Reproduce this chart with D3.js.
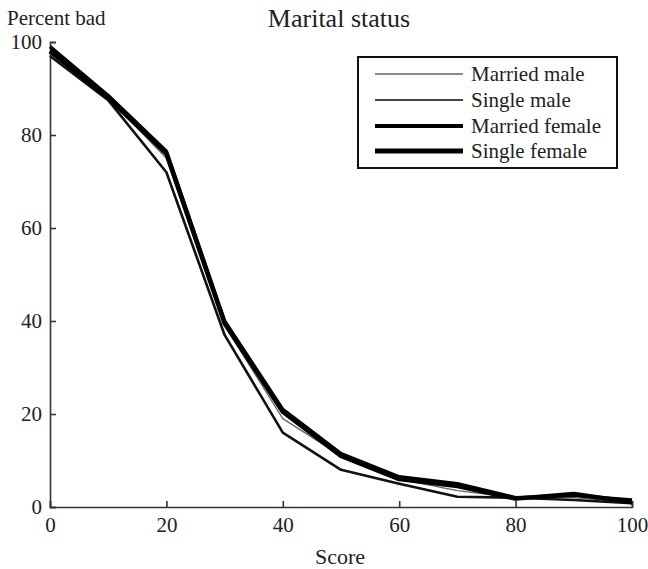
<!DOCTYPE html>
<html><head><meta charset="utf-8">
<script src="https://cdn.jsdelivr.net/npm/d3@7/dist/d3.min.js"></script>
<style>body{margin:0;background:#fff;} svg{display:block;}</style>
</head><body>
<script>
const scores = [0,10,20,30,40,50,60,70,80,90,100];
const marriedMale   = [98, 88, 75, 39, 19, 11, 6, 3.5, 2, 2, 1];
const singleMale    = [97, 87.5, 72, 37, 16, 8, 5, 2.2, 2, 1.5, 0.8];
const marriedFemale = [99, 88.5, 76.5, 40, 21, 11.5, 6.5, 5, 2, 2.5, 1.5];
const singleFemale  = [98, 88, 76, 39.5, 20.5, 11, 6, 4.5, 1.8, 2.8, 1];
const seriesNames = ["Married male","Single male","Married female","Single female"];
const xTicks = [0,20,40,60,80,100];
const yTicks = [0,20,40,60,80,100];

const W=648,H=569;
const svg=d3.select("body").append("svg").attr("width",W).attr("height",H);
const x=d3.scaleLinear().domain([0,100]).range([50,632]);
const y=d3.scaleLinear().domain([0,100]).range([507,42]);
const font="'Liberation Serif','Times New Roman',serif";

const styles=[
 {c:"#666",w:1.3},
 {c:"#111",w:2.6},
 {c:"#000",w:3.5},
 {c:"#000",w:4.5}
];
const legendStyles=[
 {c:"#666",w:1.3},
 {c:"#444",w:2},
 {c:"#000",w:4},
 {c:"#000",w:5}
];
const data=[marriedMale,singleMale,marriedFemale,singleFemale];

// axes
const xa=svg.append("g").attr("transform","translate(0,507)")
 .call(d3.axisBottom(x).tickValues(xTicks).tickSize(-6).tickPadding(10));
const ya=svg.append("g").attr("transform","translate(50,0)")
 .call(d3.axisLeft(y).tickValues(yTicks).tickSize(-6).tickPadding(8));
[xa,ya].forEach(a=>{
 a.select(".domain").attr("stroke","#333").attr("stroke-width",1.6);
 a.selectAll(".tick line").attr("stroke","#333").attr("stroke-width",1.6);
 a.selectAll(".tick text").attr("font-family",font).attr("font-size",21).attr("fill","#222");
});
xa.selectAll(".tick text").attr("dy","0.72em");
ya.selectAll(".tick text").attr("dy","0.3em");

// lines
const line=d3.line().x((d,i)=>x(scores[i])).y(d=>y(d));
data.forEach((s,i)=>{
 svg.append("path").datum(s).attr("d",line).attr("fill","none")
  .attr("stroke",styles[i].c).attr("stroke-width",styles[i].w)
  .attr("stroke-linejoin","round");
});

// titles
svg.append("text").attr("x",339).attr("y",27).attr("text-anchor","middle")
 .attr("font-family",font).attr("font-size",26).attr("fill","#222").text("Marital status");
svg.append("text").attr("x",7).attr("y",25)
 .attr("font-family",font).attr("font-size",21).attr("fill","#222").text("Percent bad");
svg.append("text").attr("x",340).attr("y",564).attr("text-anchor","middle")
 .attr("font-family",font).attr("font-size",22).attr("fill","#222").text("Score");

// legend
const lg=svg.append("g");
lg.append("rect").attr("x",358).attr("y",57).attr("width",259).attr("height",111)
 .attr("fill","#fff").attr("stroke","#111").attr("stroke-width",2);
const rowY=[74,100,126,151];
seriesNames.forEach((n,i)=>{
 lg.append("line").attr("x1",375).attr("x2",463).attr("y1",rowY[i]).attr("y2",rowY[i])
  .attr("stroke",legendStyles[i].c).attr("stroke-width",legendStyles[i].w);
 lg.append("text").attr("x",471).attr("y",rowY[i]).attr("dy","0.32em")
  .attr("font-family",font).attr("font-size",21).attr("fill","#222").text(n);
});
</script>
</body></html>
